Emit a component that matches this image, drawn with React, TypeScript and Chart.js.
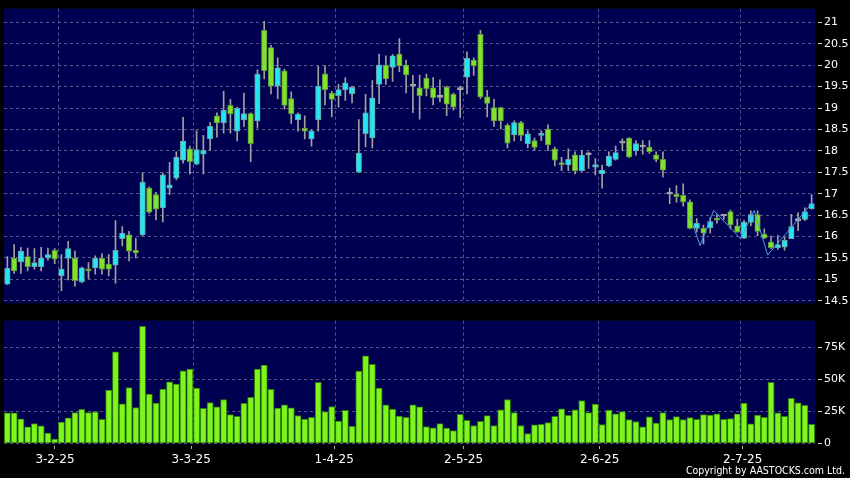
import React, { useEffect, useRef } from 'react';
import { Chart, registerables } from 'chart.js';

Chart.register(...registerables);

// ---- data ----
const opens = [
  14.89, 15.5, 15.41, 15.53, 15.3, 15.3, 15.5, 15.68, 15.09, 15.49,
  15.5, 14.94, 15.24, 15.27, 15.49, 15.36, 15.33, 15.95, 16.04, 15.68,
  16.04, 17.13, 16.98, 16.67, 17.13, 17.36, 17.78, 18.05, 17.69, 17.92,
  18.28, 18.82, 18.66, 19.06, 18.46, 18.72, 18.87, 18.7, 20.81, 20.41,
  19.51, 19.87, 19.22, 18.72, 18.53, 18.28, 18.72, 19.8, 19.35, 19.29,
  19.43, 19.33, 17.5, 18.4, 18.3, 19.55, 20.0, 19.95, 20.26, 20.0,
  19.51, 19.47, 19.7, 19.47, 19.25, 19.49, 19.32, 19.43, 19.72, 20.12,
  20.72, 19.26, 19.01, 19.01, 18.6, 18.37, 18.66, 18.17, 18.24, 18.36,
  18.51, 18.05, 17.71, 17.67, 17.91, 17.54, 17.91, 17.62, 17.46, 17.65,
  17.8, 18.18, 18.3, 18.0, 18.09, 18.09, 17.91, 17.8, 16.99, 16.99,
  16.96, 16.81, 16.19, 16.19, 16.21, 16.43, 16.48, 16.58, 16.25, 15.96,
  16.33, 16.51, 16.06, 15.87, 15.74, 15.75, 15.95, 16.37, 16.4, 16.65,
];
const highs = [
  15.53, 15.81, 15.75, 15.73, 15.72, 15.75, 15.73, 15.72, 15.58, 15.89,
  15.66, 15.29, 15.39, 15.55, 15.6, 15.58, 16.37, 16.23, 16.12, 15.96,
  17.49, 17.16, 17.03, 17.48, 17.73, 17.98, 18.78, 18.11, 18.47, 18.36,
  18.66, 18.89, 19.39, 19.2, 19.02, 19.35, 18.89, 19.89, 21.02, 20.46,
  20.17, 19.91, 19.38, 18.89, 18.82, 18.49, 19.97, 19.99, 19.39, 19.55,
  19.71, 19.51, 18.73, 19.32, 19.64, 20.26, 20.22, 20.25, 20.62, 20.12,
  19.76, 19.77, 19.79, 19.71, 19.66, 19.51, 19.35, 19.51, 20.31, 20.17,
  20.81, 19.41, 19.2, 19.02, 18.63, 18.7, 18.69, 18.47, 18.3, 18.47,
  18.61, 18.09, 17.85, 18.05, 17.98, 18.01, 17.98, 17.82, 17.67, 17.98,
  18.11, 18.28, 18.31, 18.24, 18.24, 18.24, 17.98, 17.98, 17.13, 17.19,
  17.23, 16.86, 16.42, 16.27, 16.44, 16.52, 16.52, 16.62, 16.41, 16.38,
  16.6, 16.6, 16.18, 16.01, 16.02, 15.98, 16.52, 16.56, 16.67, 16.98,
];
const lows = [
  14.88, 15.14, 15.14, 15.2, 15.24, 15.2, 15.45, 15.37, 14.74, 14.99,
  14.84, 14.92, 15.01, 15.12, 15.12, 15.09, 14.91, 15.78, 15.43, 15.5,
  16.02, 16.54, 16.39, 16.34, 16.98, 17.32, 17.71, 17.46, 17.67, 17.46,
  18.01, 18.32, 18.41, 18.41, 18.23, 18.57, 17.75, 18.53, 19.68, 19.33,
  19.22, 18.97, 18.64, 18.46, 18.28, 18.11, 18.46, 19.07, 18.79, 19.02,
  19.18, 19.12, 17.49, 18.09, 18.07, 19.1, 19.55, 19.62, 19.85, 19.35,
  18.89, 18.74, 19.28, 19.07, 19.14, 18.82, 18.95, 18.78, 19.33, 19.76,
  19.22, 18.79, 18.57, 18.51, 18.07, 18.23, 18.24, 18.07, 18.01, 18.24,
  18.01, 17.65, 17.54, 17.54, 17.46, 17.52, 17.59, 17.44, 17.13, 17.63,
  17.78, 18.01, 17.84, 17.9, 17.92, 17.94, 17.75, 17.39, 16.77, 16.8,
  16.71, 16.18, 16.1, 15.83, 16.08, 16.31, 16.4, 16.18, 16.1, 15.95,
  16.25, 16.02, 15.95, 15.72, 15.7, 15.68, 15.95, 16.14, 16.37, 16.64,
];
const closes = [
  15.26, 15.2, 15.66, 15.3, 15.39, 15.5, 15.58, 15.47, 15.24, 15.72,
  14.97, 15.27, 15.2, 15.49, 15.24, 15.24, 15.68, 16.08, 15.66, 15.62,
  17.27, 16.57, 16.64, 17.44, 17.21, 17.85, 18.23, 17.75, 18.03, 18.01,
  18.57, 18.65, 18.95, 18.86, 18.99, 18.87, 18.17, 19.79, 19.87, 19.51,
  19.94, 19.06, 18.87, 18.86, 18.46, 18.47, 19.51, 19.43, 19.2, 19.43,
  19.59, 19.48, 17.95, 18.89, 19.24, 20.0, 19.68, 20.22, 19.98, 19.77,
  19.51, 19.29, 19.45, 19.24, 19.25, 19.09, 19.02, 19.43, 20.16, 19.98,
  19.26, 19.11, 18.7, 18.7, 18.18, 18.66, 18.36, 18.4, 18.08, 18.4,
  18.14, 17.78, 17.68, 17.8, 17.53, 17.9, 17.91, 17.68, 17.55, 17.88,
  17.96, 18.18, 17.86, 18.17, 18.09, 17.98, 17.8, 17.55, 16.99, 16.93,
  16.81, 16.19, 16.31, 16.08, 16.35, 16.38, 16.48, 16.27, 16.1, 16.34,
  16.51, 16.12, 15.96, 15.74, 15.81, 15.91, 16.23, 16.37, 16.58, 16.77,
];
const volumes = [
  23700, 23700, 19200, 12800, 15400, 13600, 8000, 3300, 16600, 19800,
  23900, 26500, 23900, 24500, 18800, 41500, 71500, 30900, 43600, 27800,
  91300, 38500, 31500, 42400, 48000, 46200, 56600, 57900, 43100, 27400,
  31800, 28500, 34100, 22500, 21000, 31200, 35900, 57900, 61100, 42200,
  27500, 30000, 27600, 21700, 19000, 20300, 47600, 24800, 28600, 17300,
  25700, 13200, 56400, 68300, 61700, 43100, 30100, 26800, 21200, 20300,
  30100, 28500, 13100, 12100, 15400, 11800, 10000, 22600, 18000, 13900,
  17200, 21600, 13900, 26200, 34200, 23900, 13900, 7500, 14400, 14900,
  16200, 21100, 27000, 21900, 26200, 33400, 23900, 30600, 14700, 26000,
  23100, 24700, 18500, 17000, 12900, 20600, 15700, 23900, 18500, 20800,
  18500, 20100, 18800, 22400, 22100, 23100, 18800, 19300, 23100, 31400,
  15200, 22100, 20300, 47600, 23700, 21100, 35200, 31600, 29600, 14900,
];
// overlay line (x in bar index units, y price)
const lineX = [101, 102.5, 104.5, 108.5, 110.5, 112.5, 119];
const lineY = [16.47, 15.79, 16.61, 15.95, 16.61, 15.57, 16.77];

const priceTicks = [14.5, 15, 15.5, 16, 16.5, 17, 17.5, 18, 18.5, 19, 19.5, 20, 20.5, 21];
const volumeTicks = [0, 25000, 50000, 75000];
const volumeTickLabels = ['0', '25K', '50K', '75K'];
const dateLabels = ['3-2-25', '3-3-25', '1-4-25', '2-5-25', '2-6-25', '2-7-25'];
const dateBarIndex = [8, 28, 49, 68, 88, 109];

// ---- styles ----
const PLOT_BG = '#000050';
const GRID = '#58588e';
const UP = '#24e6ef';
const UP_BORDER = '#6b9ea6';
const DOWN = '#7fe32c';
const DOWN_BORDER = '#5f9440';
const FLAT = '#a8a8a8';
const WICK = '#a0a0a0';
const VOL = '#7ff51e';
const VOL_BORDER = '#2f7d0c';
const LINE = '#45a2e6';
const FONT = 'DejaVu Sans';

const bgPlugin = {
  id: 'plotBg',
  beforeDraw(chart: any) {
    const { ctx, chartArea: a } = chart;
    ctx.save();
    ctx.fillStyle = PLOT_BG;
    ctx.fillRect(a.left, a.top, a.right - a.left, a.bottom - a.top);
    ctx.restore();
  },
};

const idx = opens.map((_, i) => i);
const kind = (i: number) => (closes[i] > opens[i] ? 'up' : closes[i] < opens[i] ? 'down' : 'flat');
const fillFor = (i: number) => ({ up: UP, down: DOWN, flat: FLAT } as any)[kind(i)];
const borderFor = (i: number) => ({ up: UP_BORDER, down: DOWN_BORDER, flat: FLAT } as any)[kind(i)];

const xMin = -0.5;
const xMax = opens.length - 0.5;
// the date labels of the source sit on a slightly wider spacing than its grid lines
const labelAxisMin = 0.01;
const labelAxisMax = 119.12;

export default function App() {
  const priceRef = useRef<HTMLCanvasElement>(null);
  const volRef = useRef<HTMLCanvasElement>(null);

  useEffect(() => {
    document.body.style.margin = '0';
    document.body.style.background = '#000';
    Chart.defaults.font.family = FONT;

    const price = new Chart(priceRef.current as HTMLCanvasElement, {
      type: 'bar',
      data: {
        datasets: [
          {
            type: 'line',
            data: lineX.map((x, k) => ({ x, y: lineY[k] })),
            borderColor: LINE,
            borderWidth: 1,
            pointRadius: 0,
            fill: false,
            order: 0,
          } as any,
          {
            type: 'bar',
            data: idx.map((i) => ({ x: i, y: [opens[i], closes[i]] })),
            backgroundColor: idx.map(fillFor),
            borderColor: idx.map(borderFor),
            borderWidth: 1,
            borderSkipped: false,
            barThickness: 5.5,
            minBarLength: 2,
            grouped: false,
            order: 1,
          } as any,
          {
            type: 'bar',
            data: idx.map((i) => ({ x: i, y: [lows[i], highs[i]] })),
            backgroundColor: WICK,
            borderWidth: 0,
            barThickness: 1,
            grouped: false,
            order: 2,
          } as any,
        ],
      },
      options: {
        responsive: false,
        animation: false,
        devicePixelRatio: 1,
        events: [],
        layout: { padding: { left: 4, top: 6, right: 0, bottom: 6 } },
        plugins: { legend: { display: false }, tooltip: { enabled: false } },
        scales: {
          x: {
            type: 'linear',
            min: xMin,
            max: xMax,
            offset: false,
            grid: { color: GRID, lineWidth: 1, drawTicks: false, offset: false },
            border: { display: false, dash: [3, 3] },
            ticks: { display: false },
            afterBuildTicks: (s: any) => {
              s.ticks = dateBarIndex.map((i) => ({ value: i - 0.5 }));
            },
            afterFit: (s: any) => {
              s.height = 0;
            },
          },
          y: {
            type: 'linear',
            position: 'right',
            min: 14.44,
            max: 21.32,
            grid: {
              color: GRID,
              lineWidth: 1,
              tickColor: '#d0d0d0',
              tickLength: 7,
              tickBorderDash: [0, 3, 4, 100],
            },
            border: { display: false, dash: [3, 3] },
            ticks: {
              color: '#ffffff',
              font: { family: FONT, size: 11 },
              padding: 2,
              callback: (v: any) => String(v),
            },
            afterBuildTicks: (s: any) => {
              s.ticks = priceTicks.map((v) => ({ value: v }));
            },
            afterFit: (s: any) => {
              s.width = 35;
            },
          },
        },
      } as any,
      plugins: [bgPlugin],
    });

    const vol = new Chart(volRef.current as HTMLCanvasElement, {
      type: 'bar',
      data: {
        datasets: [
          {
            data: idx.map((i) => ({ x: i, y: volumes[i] })),
            backgroundColor: VOL,
            borderColor: VOL_BORDER,
            borderWidth: 1,
            borderSkipped: false,
            barThickness: 6.2,
            grouped: false,
          } as any,
        ],
      },
      options: {
        responsive: false,
        animation: false,
        devicePixelRatio: 1,
        events: [],
        layout: { padding: { left: 4, top: 7, right: 0, bottom: 0 } },
        plugins: { legend: { display: false }, tooltip: { enabled: false } },
        scales: {
          x: {
            type: 'linear',
            position: 'bottom',
            min: xMin,
            max: xMax,
            offset: false,
            grid: { color: GRID, lineWidth: 1, offset: false, drawTicks: false },
            border: { display: false, dash: [3, 3] },
            ticks: { display: false },
            afterBuildTicks: (s: any) => {
              s.ticks = dateBarIndex.map((i) => ({ value: i - 0.5 }));
            },
            afterFit: (s: any) => {
              s.height = 0;
            },
          },
          xl: {
            type: 'linear',
            position: 'bottom',
            min: labelAxisMin,
            max: labelAxisMax,
            offset: false,
            grid: {
              drawOnChartArea: false,
              offset: false,
              tickColor: '#b0b0b0',
              tickLength: 6,
              tickBorderDash: [0, 3, 3, 100],
            },
            border: { display: false },
            ticks: {
              color: '#ffffff',
              font: { family: FONT, size: 12 },
              padding: 3,
              autoSkip: false,
              maxRotation: 0,
              callback: (_v: any, k: number) => dateLabels[k],
            },
            afterBuildTicks: (s: any) => {
              s.ticks = dateBarIndex.map((i) => ({ value: i - 0.5 }));
            },
            afterFit: (s: any) => {
              s.height = 34.7;
            },
          },
          y: {
            type: 'linear',
            position: 'right',
            min: 0,
            max: 95800,
            grid: {
              color: GRID,
              lineWidth: 1,
              tickColor: '#d0d0d0',
              tickLength: 7,
              tickBorderDash: [0, 3, 4, 100],
            },
            border: { display: false, dash: [3, 3] },
            ticks: {
              color: '#ffffff',
              font: { family: FONT, size: 11 },
              padding: 2,
              callback: (v: any) => volumeTickLabels[volumeTicks.indexOf(v)],
            },
            afterBuildTicks: (s: any) => {
              s.ticks = volumeTicks.map((v) => ({ value: v }));
            },
            afterFit: (s: any) => {
              s.width = 35;
            },
          },
        },
      } as any,
      plugins: [bgPlugin],
    });

    return () => {
      price.destroy();
      vol.destroy();
    };
  }, []);

  return (
    <div style={{ position: 'absolute', left: 0, top: 0, width: 850, height: 478, background: '#000', overflow: 'hidden' }}>
      <canvas ref={priceRef} width={850} height={312} style={{ position: 'absolute', left: 0, top: 0, display: 'block' }} />
      <canvas ref={volRef} width={850} height={166} style={{ position: 'absolute', left: 0, top: 312, display: 'block' }} />
      <div
        style={{
          position: 'absolute',
          right: 5,
          top: 464,
          color: '#ffffff',
          fontFamily: "'DejaVu Sans Condensed', 'DejaVu Sans', sans-serif",
          fontStretch: 'condensed',
          fontSize: '10.5px',
          lineHeight: '12px',
          whiteSpace: 'nowrap',
        }}
      >
        Copyright by AASTOCKS.com Ltd.
      </div>
    </div>
  );
}
